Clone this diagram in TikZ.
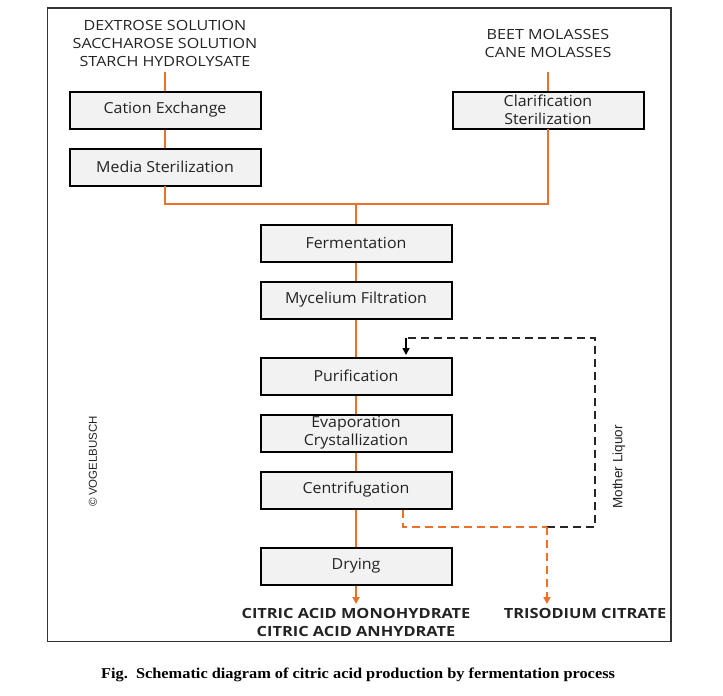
\documentclass[tikz,border=0pt]{standalone}
\usepackage{fontspec}
\setmainfont{Open Sans}
\newfontfamily\boxf[FakeStretch=1.05]{Open Sans}
\newfontfamily\srcf[FakeStretch=1.15]{Open Sans}
\newfontfamily\outf[FakeStretch=1.17]{Open Sans}
\newfontfamily\arialf{Liberation Sans}
\newfontfamily\timesf[FakeStretch=1.09]{Liberation Serif}
\usetikzlibrary{arrows.meta}
\definecolor{flow}{RGB}{237,112,40}
\definecolor{boxfill}{RGB}{242,242,242}
\definecolor{txt}{RGB}{35,35,35}
\tikzset{
  stepbox/.style={draw=black, line width=2pt, fill=boxfill, minimum width=191pt, minimum height=37pt,
    inner sep=0pt, align=center, font=\boxf\fontsize{15.2}{18}\selectfont, text=txt},
  srctext/.style={align=center, font=\srcf\fontsize{14}{18}\selectfont, text=txt, inner sep=0pt},
  outtext/.style={align=center, font=\outf\fontsize{14}{18}\selectfont\bfseries, text=txt, inner sep=0pt},
  flowline/.style={draw=flow, line width=2pt},
  flowdash/.style={draw=flow, line width=2pt, dash pattern=on 8pt off 5pt},
  backdash/.style={draw=black!85, line width=2pt, dash pattern=on 8pt off 5pt},
  tip/.style={-{Triangle[length=7pt,width=7pt]}},
}
\begin{document}
\begin{tikzpicture}[x=1pt,y=-1pt]
\useasboundingbox (0,0) rectangle (723,696);
\draw[line width=1.4pt, draw=black!80] (47.5,8) rectangle (671,641.5);

\node[srctext] (src1) at (165,43.5) {DEXTROSE SOLUTION\\SACCHAROSE SOLUTION\\STARCH HYDROLYSATE};
\node[srctext] (src2) at (548,43.5) {BEET MOLASSES\\CANE MOLASSES};
\coordinate (s1) at (165,72);
\coordinate (s2) at (548,72);

\node[stepbox] (cat) at (165,110) {Cation Exchange};
\node[stepbox] (med) at (165,167) {Media Sterilization};
\node[stepbox] (cla) at (548,110) {Clarification\\Sterilization};
\node[stepbox] (fer) at (356,243) {Fermentation};
\node[stepbox] (myc) at (356,300) {Mycelium Filtration};
\node[stepbox] (pur) at (356,376) {Purification};
\node[stepbox] (eva) at (356,433) {Evaporation\\Crystallization};
\node[stepbox] (cen) at (356,490) {Centrifugation};
\node[stepbox] (dry) at (356,566) {Drying};

\node[outtext] (out1) at (356,622) {CITRIC ACID MONOHYDRATE\\CITRIC ACID ANHYDRATE};
\node[outtext] (out2) at (585,613) {TRISODIUM CITRATE};

\node[font=\arialf\fontsize{13.5}{14}\selectfont, text=txt, rotate=90, inner sep=0pt] (ml) at (619,467) {Mother Liquor};
\node[font=\arialf\fontsize{11.5}{14}\selectfont, text=txt, rotate=90, inner sep=0pt] (vog) at (93,461) {\textcopyright\,VOGELBUSCH};

\node[font=\timesf\bfseries\fontsize{15}{16}\selectfont, inner sep=0pt] (cap) at (358,675) {Fig.\ \ Schematic diagram of citric acid production by fermentation process};

% feed lines
\draw[flowline] (s1) -- (cat.north);
\draw[flowline] (cat.south) -- (med.north);
\draw[flowline] (s2) -- (cla.north);
\coordinate (j) at (356,204);
\draw[flowline, line cap=rect] (med.south) |- (j);
\draw[flowline, line cap=rect] (cla.south) |- (j);
\draw[flowline] (j) -- (fer.north);
\draw[flowline] (fer.south) -- (myc.north);
\draw[flowline] (myc.south) -- (pur.north);
\draw[flowline] (pur.south) -- (eva.north);
\draw[flowline] (eva.south) -- (cen.north);
\draw[flowline] (cen.south) -- (dry.north);
\coordinate (o1) at (356,604);
\draw[flowline, tip] (dry.south) -- (o1);

% mother liquor
\coordinate (c1) at (403,527);
\coordinate (c2) at (547,527);
\coordinate (c3) at (595,527);
\coordinate (c4) at (595,338);
\coordinate (c5) at (406,338);
\coordinate (c6) at (406,355);
\coordinate (o2) at (547,604);
\draw[backdash] (c2) -- (c3) -- (c4) -- (c5);
\draw[draw=black, line width=1.6pt, tip] (c5) -- (c6);
\draw[flowdash] (cen.south -| c1) -- (c1) -- (c2);
\draw[flowdash, tip] (c2) -- (o2);
\end{tikzpicture}
\end{document}
